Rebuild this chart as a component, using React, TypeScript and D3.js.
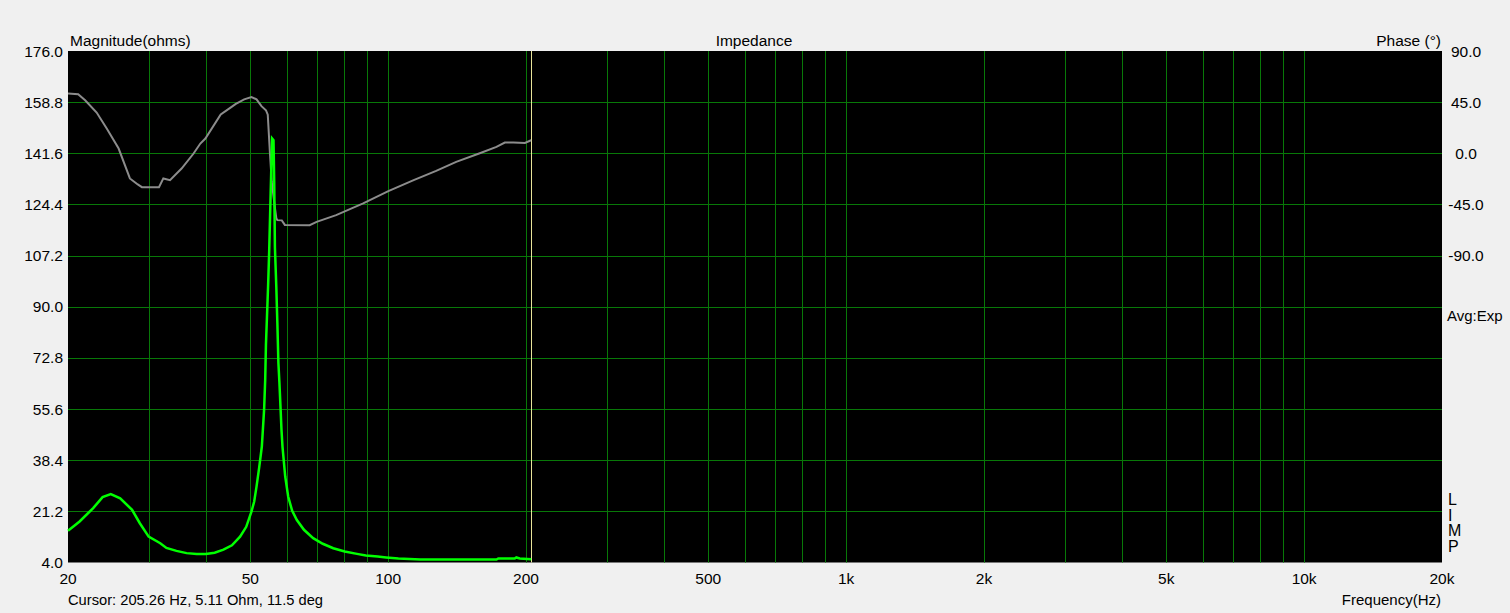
import React, { useEffect, useRef } from 'react';
import * as d3 from 'd3';

// magnitude (ohms)
const magFreq = [20, 21.2, 22.7, 23.8, 24.8, 26.0, 27.6, 28.7, 30.0, 31.8, 32.8, 34.5, 36.3, 38.2, 40.0, 41.8, 43.7, 45.6, 47.5, 49.0, 50.3, 51.0, 51.6, 52.3, 53.0, 53.6, 53.9, 54.1, 54.4, 54.7, 55.0, 55.4, 55.8, 56.2, 56.4, 56.6, 57.0, 57.3, 57.6, 57.9, 58.2, 58.5, 58.8, 59.6, 60.5, 61.7, 63.2, 65.5, 68.6, 72.0, 75.9, 80.4, 85.5, 89.4, 94.9, 99.0, 105.3, 117.6, 172.4, 174.0, 189.0, 190.5, 193.8, 205.26];
const magValues = [14.7, 17.8, 22.3, 26.0, 27.0, 25.6, 21.7, 17.2, 12.7, 10.5, 8.9, 7.9, 7.15, 6.9, 6.9, 7.3, 8.3, 9.8, 12.7, 16.0, 21.1, 24.5, 29.5, 36.0, 43.0, 55.3, 65.4, 77.1, 87.2, 97.3, 109.0, 128.2, 146.6, 146.0, 132.0, 110.0, 96.6, 84.5, 71.1, 64.4, 56.6, 48.6, 42.9, 33.0, 26.2, 21.5, 18.3, 15.0, 12.2, 10.3, 8.8, 7.7, 6.9, 6.35, 6.0, 5.7, 5.35, 5.0, 5.0, 5.35, 5.35, 5.7, 5.35, 5.11];

// phase (deg)
const phaseFreq = [20, 21.05, 21.8, 23.1, 24.3, 25.8, 27.3, 28.4, 29.0, 31.6, 32.3, 33.4, 35.4, 37.6, 38.9, 39.9, 43.1, 45.2, 46.5, 48.5, 50.3, 51.6, 52.9, 54.1, 54.6, 55.2, 55.7, 56.6, 57.0, 57.3, 58.6, 59.5, 67.4, 69.8, 77.0, 88.2, 100.1, 113.7, 127.3, 140.8, 158.0, 172.4, 179.8, 187.6, 198.9, 205.26];
const phaseValues = [52.6, 52.0, 46.7, 35.9, 21.8, 4.2, -22.1, -27.4, -29.8, -29.8, -22.1, -23.6, -13.4, -0.2, 8.6, 13.0, 34.1, 40.0, 43.5, 47.5, 49.5, 47.5, 41.5, 37.9, 34.0, 0.0, -25.0, -48.0, -57.0, -58.8, -59.0, -63.0, -63.2, -60.3, -54.4, -44.1, -33.3, -23.6, -15.5, -7.5, -0.2, 5.6, 9.5, 9.5, 9.1, 11.5];

const magTicks = [4.0, 21.2, 38.4, 55.6, 72.8, 90.0, 107.2, 124.4, 141.6, 158.8, 176.0];
const phaseTicks = [90, 45, 0, -45, -90];
const freqGrid = [20, 30, 40, 50, 60, 70, 80, 90, 100, 200, 300, 400, 500, 600, 700, 800, 900, 1000, 2000, 3000, 4000, 5000, 6000, 7000, 8000, 9000, 10000, 20000];
const freqTicks = [20, 50, 100, 200, 500, 1000, 2000, 5000, 10000, 20000];
const freqTickLabels = ['20', '50', '100', '200', '500', '1k', '2k', '5k', '10k', '20k'];
const cursorFreq = 205.26;
const cursorText = 'Cursor: 205.26 Hz, 5.11 Ohm, 11.5 deg';

const App = () => {
  const ref = useRef(null);

  useEffect(() => {
    const width = 1510;
    const height = 613;
    const margin = { top: 51, left: 68 };
    const plotRight = 1442;
    const plotBottom = 562.5;
    const font = '"Liberation Sans", Arial, sans-serif';
    const fs = '15.5px';
    const gridColor = '#087808';

    d3.select(ref.current).selectAll('*').remove();

    const svg = d3.select(ref.current)
      .append('svg')
      .attr('width', width)
      .attr('height', height)
      .style('position', 'absolute')
      .style('left', 0)
      .style('top', 0)
      .style('font-family', font);

    svg.append('rect')
      .attr('width', width)
      .attr('height', height)
      .attr('fill', '#f0f0f0');

    const xScale = d3.scaleLog()
      .domain([20, 20000])
      .range([margin.left, plotRight]);

    const yScale = d3.scaleLinear()
      .domain([4, 176])
      .range([plotBottom, margin.top]);

    const pScale = d3.scaleLinear()
      .domain([-360, 90])
      .range([plotBottom, margin.top]);

    svg.append('rect')
      .attr('x', margin.left)
      .attr('y', margin.top)
      .attr('width', plotRight - margin.left)
      .attr('height', plotBottom - margin.top)
      .attr('fill', '#000');

    const px = v => Math.round(v) + 0.5;

    // grid
    svg.append('g')
      .selectAll('line')
      .data(magTicks.slice(1, -1))
      .enter()
      .append('line')
      .attr('x1', margin.left)
      .attr('x2', plotRight)
      .attr('y1', d => px(yScale(d)))
      .attr('y2', d => px(yScale(d)))
      .attr('stroke', gridColor)
      .attr('stroke-width', 1);

    svg.append('g')
      .selectAll('line')
      .data(freqGrid.slice(1, -1))
      .enter()
      .append('line')
      .attr('x1', d => px(xScale(d)))
      .attr('x2', d => px(xScale(d)))
      .attr('y1', margin.top)
      .attr('y2', plotBottom)
      .attr('stroke', gridColor)
      .attr('stroke-width', 1);

    // cursor
    svg.append('line')
      .attr('x1', px(xScale(cursorFreq)))
      .attr('x2', px(xScale(cursorFreq)))
      .attr('y1', margin.top)
      .attr('y2', plotBottom)
      .attr('stroke', '#e8e49a')
      .attr('stroke-width', 1);

    // phase trace
    const phaseLine = d3.line()
      .x(d => xScale(d[0]))
      .y(d => pScale(d[1]));

    svg.append('path')
      .datum(phaseFreq.map((f, i) => [f, phaseValues[i]]))
      .attr('fill', 'none')
      .attr('stroke', '#8c8c8c')
      .attr('stroke-width', 2)
      .attr('d', phaseLine);

    // magnitude trace
    const magLine = d3.line()
      .x(d => xScale(d[0]))
      .y(d => yScale(d[1]));

    svg.append('path')
      .datum(magFreq.map((f, i) => [f, magValues[i]]))
      .attr('fill', 'none')
      .attr('stroke', '#00ff00')
      .attr('stroke-width', 2.5)
      .attr('d', magLine);

    // left axis labels
    svg.append('g')
      .selectAll('text')
      .data(magTicks)
      .enter()
      .append('text')
      .attr('x', 63)
      .attr('y', d => yScale(d) + 5.5)
      .attr('text-anchor', 'end')
      .style('font-size', '15.5px')
      .attr('fill', '#000')
      .text(d => d.toFixed(1));

    // right axis labels
    svg.append('g')
      .selectAll('text')
      .data(phaseTicks)
      .enter()
      .append('text')
      .attr('x', 1466)
      .attr('y', d => pScale(d) + 5.5)
      .attr('text-anchor', 'middle')
      .style('font-size', '15.5px')
      .attr('fill', '#000')
      .text(d => d.toFixed(1));

    // bottom axis labels
    svg.append('g')
      .selectAll('text')
      .data(freqTicks)
      .enter()
      .append('text')
      .attr('x', d => xScale(d))
      .attr('y', 584)
      .attr('text-anchor', 'middle')
      .style('font-size', '15.5px')
      .attr('fill', '#000')
      .text((d, i) => freqTickLabels[i]);

    svg.append('text')
      .attr('x', 70)
      .attr('y', 46)
      .style('font-size', fs)
      .text('Magnitude(ohms)');

    svg.append('text')
      .attr('x', 754)
      .attr('y', 46)
      .attr('text-anchor', 'middle')
      .style('font-size', fs)
      .text('Impedance');

    svg.append('text')
      .attr('x', 1441)
      .attr('y', 46)
      .attr('text-anchor', 'end')
      .style('font-size', fs)
      .text('Phase (°)');

    svg.append('text')
      .attr('x', 1447)
      .attr('y', yScale(90) + 14)
      .style('font-size', '15px')
      .text('Avg:Exp');

    ['L', 'I', 'M', 'P'].forEach((c, i) => {
      svg.append('text')
        .attr('x', 1448)
        .attr('y', 505 + i * 15.6)
        .style('font-size', '16px')
        .text(c);
    });

    svg.append('text')
      .attr('x', 68)
      .attr('y', 605)
      .style('font-size', '14.7px')
      .text(cursorText);

    svg.append('text')
      .attr('x', 1441)
      .attr('y', 605)
      .attr('text-anchor', 'end')
      .style('font-size', '15px')
      .text('Frequency(Hz)');
  }, []);

  return (
    <div ref={ref} style={{ width: 1510, height: 613 }}></div>
  );
};

export default App;
